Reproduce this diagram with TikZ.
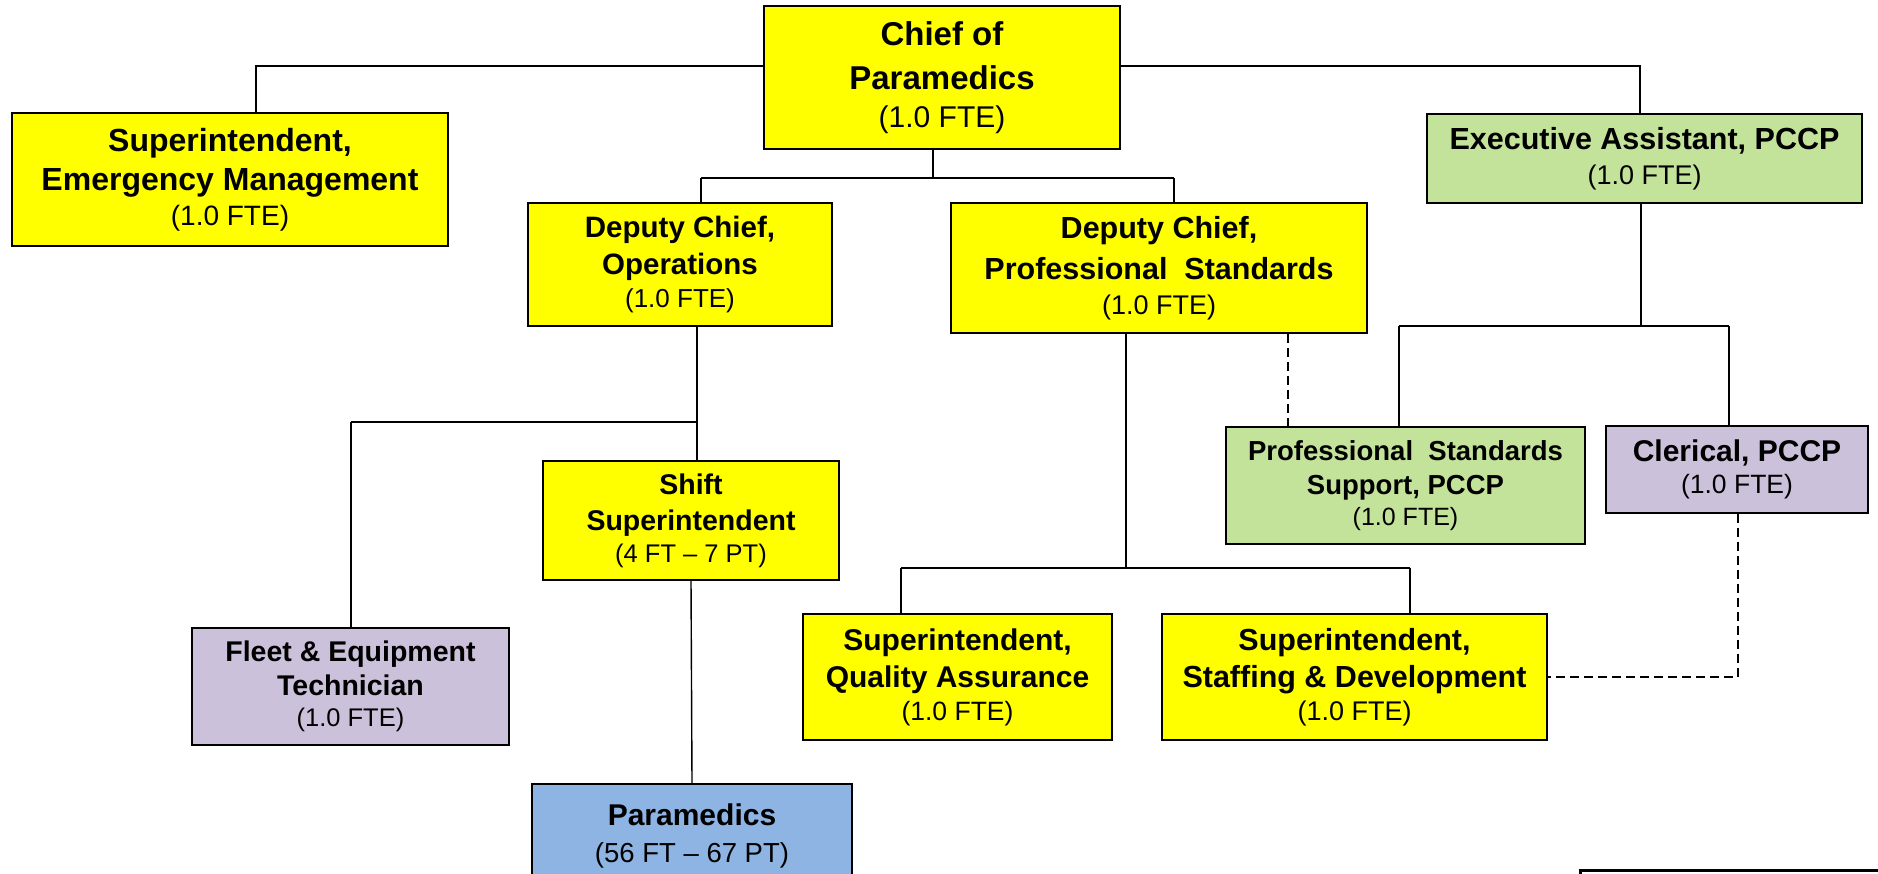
\documentclass[tikz,border=0pt]{standalone}
\usepackage{fontspec}
\setmainfont{Liberation Sans}
\definecolor{ybox}{HTML}{FFFF00}
\definecolor{gbox}{HTML}{C3E29A}
\definecolor{pbox}{HTML}{CCC1DA}
\definecolor{bbox}{HTML}{8DB4E2}
\newcommand{\fte}[2]{{\fontsize{#1}{#1}\selectfont #2}}
\tikzset{
  orgbox/.style={draw=black, line width=1.8pt, align=center, inner sep=2pt},
  conn/.style={line width=1.4pt},
  dconn/.style={line width=1.4pt, dash pattern=on 9pt off 5pt},
}
\begin{document}
\begin{tikzpicture}[x=1pt,y=-1pt]
\useasboundingbox (0,0) rectangle (1878,874);
\clip (0,0) rectangle (1878,874);
\fill[white] (0,0) rectangle (1878,874);

% nodes
\node[orgbox, fill=ybox, minimum width=356pt, minimum height=143pt, font=\fontsize{33}{44}\selectfont] (chief) at (942,77.5)
  {\textbf{Chief of}\\\textbf{Paramedics}\\[-6pt]\fte{30}{(1.0 FTE)}};
\node[orgbox, fill=ybox, minimum width=436pt, minimum height=133pt, font=\fontsize{32}{39}\selectfont] (sem) at (230,179.5)
  {\textbf{Superintendent,}\\\textbf{Emergency Management}\\[-4pt]\fte{28}{(1.0 FTE)}};
\node[orgbox, fill=gbox, minimum width=435pt, minimum height=89pt, font=\fontsize{30.5}{38}\selectfont] (ea) at (1644.5,158.5)
  {\textbf{Executive Assistant, PCCP}\\[-3pt]\fte{27}{(1.0 FTE)}};
\node[orgbox, fill=ybox, minimum width=304pt, minimum height=123pt, font=\fontsize{29.5}{37}\selectfont] (dco) at (680,264.5)
  {\textbf{Deputy Chief,}\\\textbf{Operations}\\[-4pt]\fte{26}{(1.0 FTE)}};
\node[orgbox, fill=ybox, minimum width=416pt, minimum height=130pt, font=\fontsize{30.5}{41}\selectfont] (dcps) at (1159,268)
  {\textbf{Deputy Chief,}\\\textbf{Professional\ \ Standards}\\[-6pt]\fte{27}{(1.0 FTE)}};
\node[orgbox, fill=gbox, minimum width=359pt, minimum height=117pt, font=\fontsize{27.5}{34}\selectfont] (pss) at (1405.5,485.5)
  {\textbf{Professional\ \ Standards}\\\textbf{Support, PCCP}\\[-3pt]\fte{25}{(1.0 FTE)}};
\node[orgbox, fill=pbox, minimum width=262pt, minimum height=87pt, font=\fontsize{30}{36}\selectfont] (cler) at (1737,469.5)
  {\textbf{Clerical, PCCP}\\[-4pt]\fte{26.5}{(1.0 FTE)}};
\node[orgbox, fill=ybox, minimum width=296pt, minimum height=119pt, font=\fontsize{28.5}{36}\selectfont] (shift) at (691,520.5)
  {\textbf{Shift}\\\textbf{Superintendent}\\[-4pt]\fte{25.5}{(4 FT -- 7 PT)}};
\node[orgbox, fill=pbox, minimum width=317pt, minimum height=117pt, font=\fontsize{28.5}{34}\selectfont] (fleet) at (350.5,686.5)
  {\textbf{Fleet \& Equipment}\\\textbf{Technician}\\[-3pt]\fte{25.5}{(1.0 FTE)}};
\node[orgbox, fill=ybox, minimum width=309pt, minimum height=126pt, font=\fontsize{30}{37}\selectfont] (qa) at (957.5,677)
  {\textbf{Superintendent,}\\\textbf{Quality Assurance}\\[-4pt]\fte{26.5}{(1.0 FTE)}};
\node[orgbox, fill=ybox, minimum width=385pt, minimum height=126pt, font=\fontsize{30.5}{37}\selectfont] (sd) at (1354.5,677)
  {\textbf{Superintendent,}\\\textbf{Staffing \& Development}\\[-4pt]\fte{27}{(1.0 FTE)}};
\node[orgbox, fill=bbox, minimum width=320pt, minimum height=103pt, font=\fontsize{30}{33}\selectfont] (para) at (692,835.5)
  {\textbf{Paramedics}\\[4pt]\fte{27.5}{(56 FT -- 67 PT)}};

% connectors from chief
\draw[conn] ([yshift=11.5pt]chief.west) -| ([xshift=26pt]sem.north);
\draw[conn] ([yshift=11.5pt]chief.east) -| ([xshift=-4.5pt]ea.north);
\coordinate (cj) at (933,178);
\coordinate (b1) at (701,178);
\coordinate (b2) at (1174,178);
\draw[conn] (cj |- chief.south) -- (cj);
\draw[conn] (b1) -- (b2);
\draw[conn] (b1) -- (b1 |- dco.north);
\draw[conn] (b2) -- (b2 |- dcps.north);

% operations branch
\coordinate (o1) at (351,422);
\coordinate (o2) at (697,422);
\draw[conn] (o2 |- dco.south) -- (o2);
\draw[conn] (o1) -- (o2);
\draw[conn] (o1) -- (o1 |- fleet.north);
\draw[conn] (o2) -- (o2 |- shift.north);
\draw[conn] (shift.south) -- (para.north);

% professional standards branch
\coordinate (p0) at (1126,568);
\coordinate (p1) at (901,568);
\coordinate (p2) at (1410,568);
\draw[conn] (p0 |- dcps.south) -- (p0);
\draw[conn] (p1) -- (p2);
\draw[conn] (p1) -- (p1 |- qa.north);
\draw[conn] (p2) -- (p2 |- sd.north);
\coordinate (d1) at (1288,0);
\draw[dconn] (d1 |- dcps.south) -- (d1 |- pss.north);

% executive assistant branch
\coordinate (e0) at (1641,326);
\coordinate (e1) at (1399,326);
\coordinate (e2) at (1729,326);
\draw[conn] (e0 |- ea.south) -- (e0);
\draw[conn] (e1) -- (e2);
\draw[conn] (e1) -- (e1 |- pss.north);
\draw[conn] (e2) -- (e2 |- cler.north);
\coordinate (c1) at (1738,677);
\draw[dconn] (c1 |- cler.south) -- (c1) -- (sd.east);

% partial legend box at bottom right
\draw[line width=3pt] (1580,900) -- (1580,870) -- (1900,870);
\end{tikzpicture}
\end{document}
